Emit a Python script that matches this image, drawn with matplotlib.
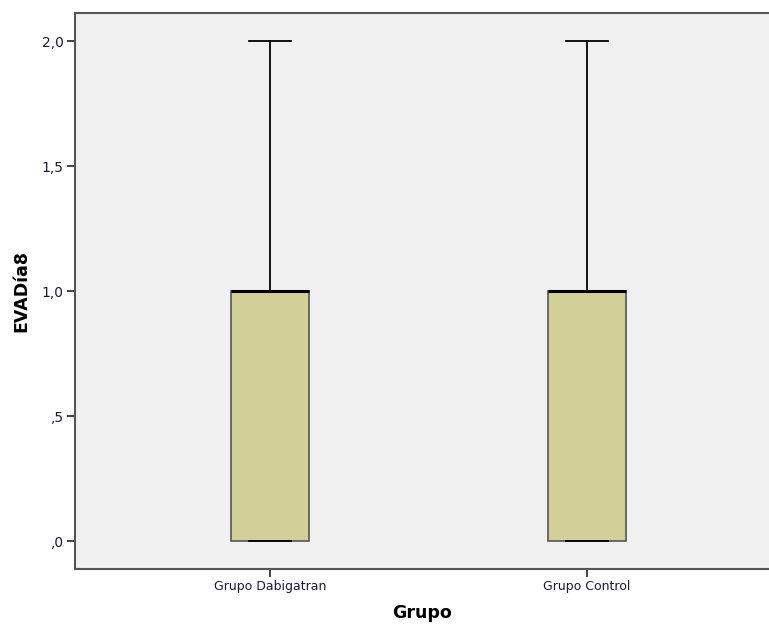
import matplotlib
matplotlib.use("Agg")
import matplotlib.pyplot as plt

# summary values per group for EVADía8
grupos = ["Grupo Dabigatran", "Grupo Control"]
minimos = [0.0, 0.0]
q1 = [0.0, 0.0]
medianas = [1.0, 1.0]
q3 = [1.0, 1.0]
maximos = [2.0, 2.0]
yticks = [0.0, 0.5, 1.0, 1.5, 2.0]
ylabels = [",0", ",5", "1,0", "1,5", "2,0"]

stats = []
for i, g in enumerate(grupos):
    stats.append(dict(label=g, whislo=minimos[i], q1=q1[i], med=medianas[i],
                      q3=q3[i], whishi=maximos[i], fliers=[]))

fig = plt.figure(figsize=(7.69, 6.27), dpi=100)
ax = fig.add_axes([0.0975, 0.0925, 0.9025, 0.8865])
ax.set_facecolor("#f0f0f0")

ax.bxp(stats, positions=[1, 2], widths=0.246, patch_artist=True,
       showfliers=False,
       boxprops=dict(facecolor="#d3cf98", edgecolor="#555555", linewidth=1.2),
       medianprops=dict(color="black", linewidth=2.2),
       whiskerprops=dict(color="black", linewidth=1.3),
       capprops=dict(color="black", linewidth=1.3),
       capwidths=0.13)

ax.set_xlim(0.385, 2.574)
ax.set_ylim(-0.112, 2.112)
ax.set_yticks(yticks)
ax.set_yticklabels(ylabels, fontsize=10, color="#1a1a33")
ax.set_xticks([1, 2])
ax.set_xticklabels(grupos, fontsize=9, color="#1a1a33")

for s in ["left", "bottom", "top"]:
    ax.spines[s].set_color("#555555")
    ax.spines[s].set_linewidth(1.5)
ax.spines["right"].set_visible(False)
ax.tick_params(axis="both", length=6, width=1.2, color="#222222", pad=2)

ax.set_ylabel("EVADía8", fontsize=12.5, fontweight="bold", labelpad=8)
ax.set_xlabel("Grupo", fontsize=12.5, fontweight="bold", labelpad=8)

fig.savefig("out.png", dpi=100)
